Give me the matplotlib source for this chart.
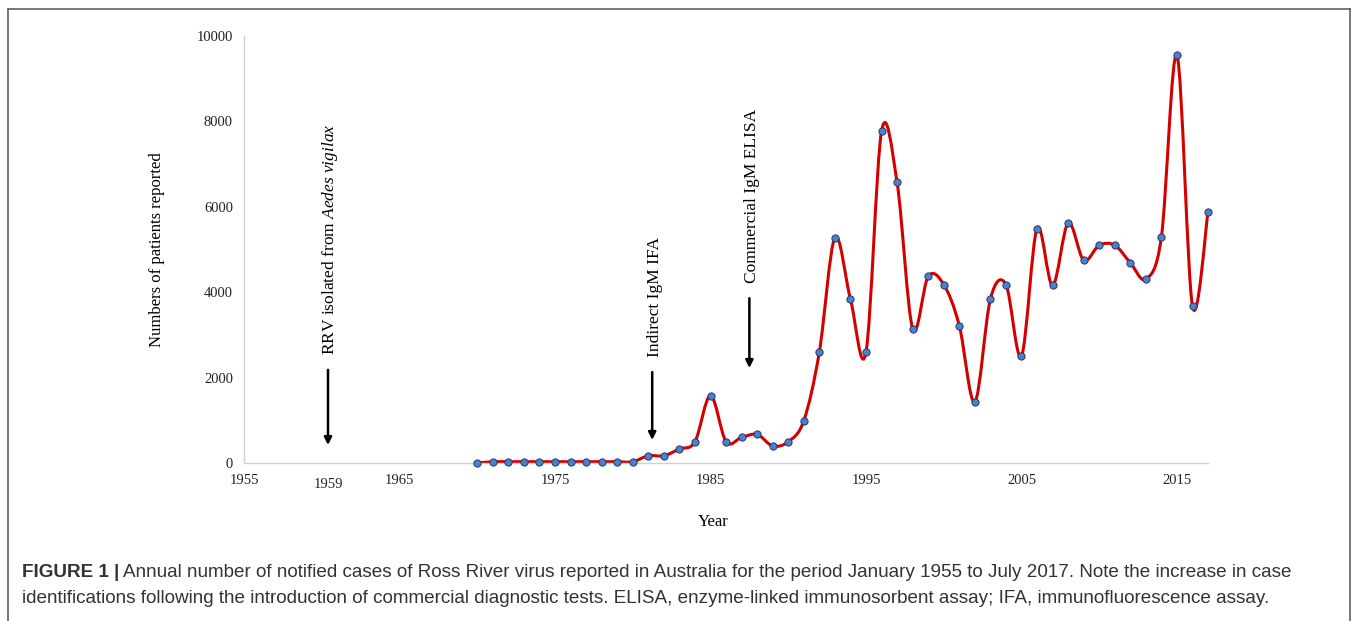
import numpy as np
import matplotlib
matplotlib.use('Agg')
import matplotlib.pyplot as plt
from matplotlib.path import Path
from matplotlib.patches import PathPatch
from matplotlib.lines import Line2D

# %% data
years = np.arange(1970, 2018)
cases = [0, 30, 30, 30, 30, 30, 30, 30, 30, 30, 30,
         170, 170, 330, 500, 1580, 500, 600, 670, 400, 500,
         990, 2600, 5280, 3840, 2600, 7770, 6570, 3150, 4370, 4180,
         3220, 1430, 3840, 4180, 2510, 5490, 4160, 5620, 4750, 5100,
         5100, 4690, 4310, 5300, 9550, 3670, 5890]
xticks = [1955, 1965, 1975, 1985, 1995, 2005, 2015]
events = ['RRV isolated from $\\mathit{Aedes\\ vigilax}$',
          'Indirect IgM IFA', 'Commercial IgM ELISA']
event_x = [1960.4, 1981.25, 1987.5]
event_label = ['1959', None, None]

plt.rcParams['font.family'] = 'Liberation Serif'
plt.rcParams['mathtext.fontset'] = 'custom'
plt.rcParams['mathtext.rm'] = 'Liberation Serif'
plt.rcParams['mathtext.it'] = 'Liberation Serif:italic'

fig = plt.figure(figsize=(13.58, 6.21), dpi=100)
ax = fig.add_axes([0.1797, 0.2544, 0.7099, 0.6876])


# %% excel-style smoothed line (catmull-rom -> cubic bezier)
def smooth_path(x, y):
    p = np.column_stack([x, y]).astype(float)
    pp = np.vstack([p[0], p, p[-1]])
    verts = [p[0]]
    codes = [Path.MOVETO]
    for i in range(len(p) - 1):
        p0, p1, p2, p3 = pp[i], pp[i + 1], pp[i + 2], pp[i + 3]
        verts += [p1 + (p2 - p0) / 6, p2 - (p3 - p1) / 6, p2]
        codes += [Path.CURVE4] * 3
    return Path(verts, codes)


ax.add_patch(PathPatch(smooth_path(years, cases), fill=False,
                       edgecolor='#D40000', lw=2.2, zorder=2, clip_on=False))
ax.plot(years, cases, ls='none', marker='o', ms=5.2, mfc='#4F7FC8',
        mec='#1F3A6A', mew=0.7, zorder=3, clip_on=False)

ax.set_xlim(1955, 2017)
ax.set_ylim(0, 10000)
ax.set_xticks(xticks)
ax.set_yticks(range(0, 10001, 2000))
ax.tick_params(length=0, labelsize=10.5, colors='#222222', pad=8)
ax.tick_params(axis='x', pad=8)
for s in ['top', 'right']:
    ax.spines[s].set_visible(False)
for s in ['left', 'bottom']:
    ax.spines[s].set_color('#D0D0D0')
    ax.spines[s].set_linewidth(1)

ax.set_ylabel('Numbers of patients reported', fontsize=12)
ax.yaxis.set_label_coords(-0.082, 0.5)
ax.set_xlabel('Year', fontsize=12)
ax.xaxis.set_label_coords(0.487, -0.12)

# %% arrows and notes
arrow_ys = [(2180, 420), (2130, 540), (3860, 2225)]
text_y = [2530, 2480, 4215]
for txt, x, (y0, y1), ty, lab in zip(events, event_x, arrow_ys, text_y,
                                      event_label):
    ax.annotate('', xy=(x, y1), xytext=(x, y0),
                arrowprops=dict(arrowstyle='-|>', lw=1.8, color='black',
                                mutation_scale=11, shrinkA=0, shrinkB=0))
    ax.text(x + 0.15, ty, txt, rotation=90, ha='center', va='bottom',
            fontsize=12.5)
    if lab:
        ax.text(x, -0.035, lab, transform=ax.get_xaxis_transform(),
                ha='center', va='top', fontsize=10.5, color='#222222')

# %% frame and caption
for xs, ys in [([0.006, 0.006], [-0.1, 0.985]),
               ([0.994, 0.994], [-0.1, 0.985]),
               ([0.006, 0.994], [0.985, 0.985])]:
    fig.add_artist(Line2D(xs, ys, transform=fig.transFigure,
                          color='#606060', lw=1.2))

cap1 = ('Annual number of notified cases of Ross River virus reported in '
        'Australia for the period January 1955 to July 2017. Note the '
        'increase in case')
cap2 = ('identifications following the introduction of commercial '
        'diagnostic tests. ELISA, enzyme-linked immunosorbent assay; '
        'IFA, immunofluorescence assay.')
capfont = dict(family='Liberation Sans', fontsize=13.6, color='#333333')
t = fig.text(0.016, 0.078, 'FIGURE 1 |', fontweight='bold', va='center',
             **capfont)
fig.canvas.draw()
bb = t.get_window_extent()
fig.text(bb.x1 / fig.bbox.width + 0.003, 0.078, cap1, va='center', **capfont)
fig.text(0.016, 0.036, cap2, va='center', **capfont)

fig.savefig('out.png', dpi=100)
